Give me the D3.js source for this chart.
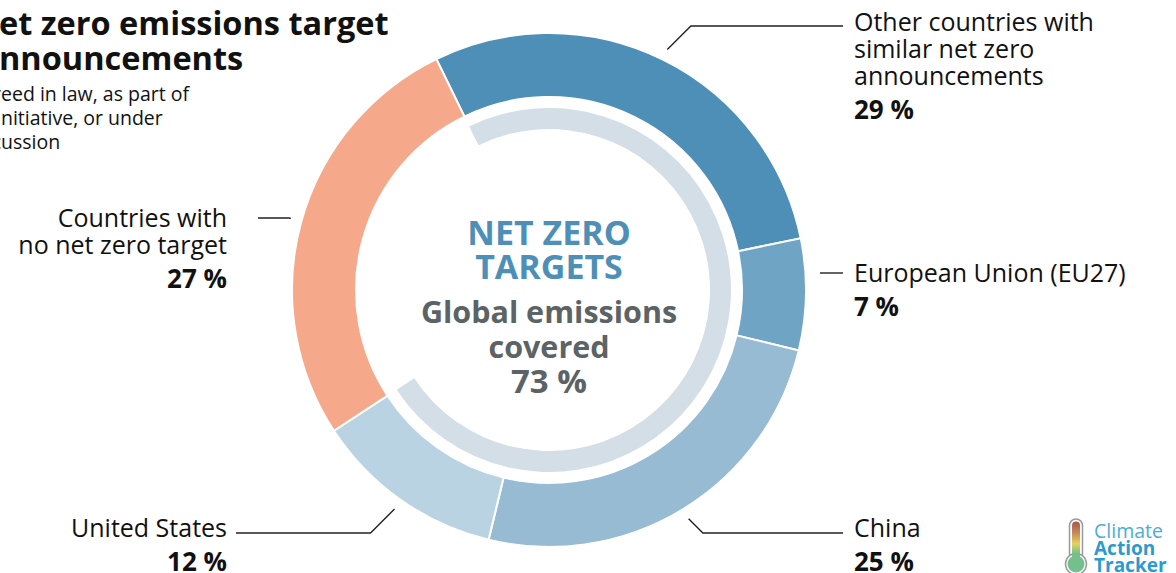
<!DOCTYPE html>
<html lang="en">
  <head>
    <meta charset="UTF-8" />
    <title>Net zero emissions target announcements</title>
    <script src="https://d3js.org/d3.v7.min.js"></script>
    <style>
      body {
        margin: 0;
        background: #ffffff;
        font-family: 'Open Sans', sans-serif;
        overflow: hidden;
      }
      svg {
        display: block;
      }
    </style>
  </head>
  <body>
    <svg id="chart" width="1176" height="573"></svg>

    <script>
      // data
      const categories = [
        'Other countries with similar net zero announcements',
        'European Union (EU27)',
        'China',
        'United States',
        'Countries with no net zero target',
      ];
      const shares = [29, 7, 25, 12, 27];
      const labelLines = [
        ['Other countries with', 'similar net zero', 'announcements'],
        ['European Union (EU27)'],
        ['China'],
        ['United States'],
        ['Countries with', 'no net zero target'],
      ];
      const coveredShare = 73;
      const titleLines = ['Net zero emissions target', 'announcements'];
      const subtitleLines = [
        'Agreed in law, as part of',
        'an initiative, or under',
        'discussion',
      ];
      // part of each line that falls off the left edge
      const titleHidden = ['N', 'a'];
      const subtitleHidden = ['Agr', 'an i', 'disc'];

      const colors = ['#4e8fb7', '#6fa4c5', '#96bbd3', '#bad3e2', '#f5a98a'];

      const svg = d3.select('#chart');
      const cx = 549,
        cy = 290,
        R = 257,
        r = 193;

      const startAngle = (-26 * Math.PI) / 180;
      const pie = d3
        .pie()
        .sort(null)
        .value((d) => d)
        .startAngle(startAngle)
        .endAngle(startAngle + 2 * Math.PI);
      const arcs = pie(shares);

      const arc = d3.arc().innerRadius(r).outerRadius(R);
      const g = svg.append('g').attr('transform', `translate(${cx},${cy})`);

      g.selectAll('path.slice')
        .data(arcs)
        .join('path')
        .attr('class', 'slice')
        .attr('d', arc)
        .attr('fill', (d, i) => colors[i])
        .attr('stroke', '#ffffff')
        .attr('stroke-width', 2);

      // inner gauge for covered emissions
      const covScale = d3
        .scaleLinear()
        .domain([0, 100])
        .range([startAngle, startAngle + 2 * Math.PI]);
      g.append('path')
        .attr(
          'd',
          d3
            .arc()
            .innerRadius(161)
            .outerRadius(182)
            .startAngle(covScale(0))
            .endAngle(covScale(coveredShare))(),
        )
        .attr('fill', '#d3dee7');

      // centre text
      const centre = g.append('g').attr('text-anchor', 'middle').style('font-weight', 700);
      centre
        .selectAll('text.nz')
        .data(['NET ZERO', 'TARGETS'])
        .join('text')
        .attr('class', 'nz')
        .attr('y', (d, i) => -45 + i * 34)
        .attr('fill', '#4e8fb7')
        .style('font-size', '34px')
        .text((d) => d);
      centre
        .selectAll('text.cov')
        .data(['Global emissions', 'covered', coveredShare + ' %'])
        .join('text')
        .attr('class', 'cov')
        .attr('y', (d, i) => 33 + i * 35)
        .attr('fill', '#5b6366')
        .style('font-size', (d, i) => (i === 2 ? '33px' : '30.5px'))
        .text((d) => d);

      // labels and leader lines
      const leaderR = 268;
      const labelLayout = [
        { side: 'right', y: 31, lineY: 26 },
        { side: 'right', y: 282, lineY: 273, straight: true, from: 820 },
        { side: 'right', y: 537, lineY: 533 },
        { side: 'left', y: 537, lineY: 533 },
        { side: 'left', y: 227, lineY: 218 },
      ];
      const polar = (a, rad) => [cx + rad * Math.sin(a), cy - rad * Math.cos(a)];

      arcs.forEach((d, i) => {
        const lay = labelLayout[i];
        const right = lay.side === 'right';
        const tx = right ? 854 : 227;
        const endX = right ? 843 : i === 4 ? 258 : 236;
        const mid = (d.startAngle + d.endAngle) / 2;
        let pts;
        if (lay.straight) {
          pts = [
            [lay.from, lay.lineY],
            [endX, lay.lineY],
          ];
        } else {
          const s = polar(mid, leaderR);
          const dy = lay.lineY - s[1];
          const ex = s[0] + (right ? 1 : -1) * Math.abs(dy);
          pts = [s, [ex, lay.lineY], [endX, lay.lineY]];
        }
        svg
          .append('path')
          .attr('d', d3.line()(pts))
          .attr('fill', 'none')
          .attr('stroke', '#222222')
          .attr('stroke-width', 1.4);

        const t = svg
          .append('text')
          .attr('x', tx)
          .attr('text-anchor', right ? 'start' : 'end')
          .attr('fill', '#111111')
          .style('font-size', '25px');
        labelLines[i].forEach((line, k) => {
          t.append('tspan')
            .attr('x', tx)
            .attr('y', lay.y + k * 27)
            .text(line);
        });
        t.append('tspan')
          .attr('x', tx)
          .attr('y', lay.y + (labelLines[i].length - 1) * 27 + 34)
          .style('font-weight', 700)
          .style('font-size', '26px')
          .text(shares[i] + ' %');
      });

      // title, cut off at the left edge
      function measure(str, size, weight) {
        const tmp = svg
          .append('text')
          .style('font-size', size + 'px')
          .style('font-weight', weight)
          .text(str);
        const w = tmp.node().getComputedTextLength();
        tmp.remove();
        return w;
      }
      titleLines.forEach((line, i) => {
        const off = measure(titleHidden[i], 32.5, 700);
        svg
          .append('text')
          .attr('x', -off - 1)
          .attr('y', 35 + i * 35)
          .style('font-size', '32.5px')
          .style('font-weight', 700)
          .attr('fill', '#111111')
          .text(line);
      });
      subtitleLines.forEach((line, i) => {
        const off = measure(subtitleHidden[i], 19.5, 400);
        svg
          .append('text')
          .attr('x', -off + 1)
          .attr('y', 101 + i * 24)
          .style('font-size', '19.5px')
          .attr('fill', '#111111')
          .text(line);
      });

      // logo
      const logo = svg.append('g');
      const defs = svg.append('defs');
      const grad = defs
        .append('linearGradient')
        .attr('id', 'thermo')
        .attr('x1', 0)
        .attr('x2', 0)
        .attr('y1', 0)
        .attr('y2', 1);
      [
        ['0%', '#a8564c'],
        ['30%', '#c98a5a'],
        ['55%', '#e6d25a'],
        ['80%', '#74c08c'],
        ['100%', '#74c08c'],
      ].forEach((s) => grad.append('stop').attr('offset', s[0]).attr('stop-color', s[1]));
      logo
        .append('rect')
        .attr('x', 1069.5)
        .attr('y', 519)
        .attr('width', 13)
        .attr('height', 42)
        .attr('rx', 6.5)
        .attr('fill', '#ffffff')
        .attr('stroke', '#9a9a9a')
        .attr('stroke-width', 1.5);
      logo
        .append('circle')
        .attr('cx', 1076)
        .attr('cy', 564)
        .attr('r', 10.5)
        .attr('fill', '#ffffff')
        .attr('stroke', '#9a9a9a')
        .attr('stroke-width', 1.5);
      logo
        .append('rect')
        .attr('x', 1072)
        .attr('y', 521.5)
        .attr('width', 8)
        .attr('height', 40)
        .attr('rx', 4)
        .attr('fill', 'url(#thermo)');
      logo
        .append('circle')
        .attr('cx', 1076)
        .attr('cy', 564)
        .attr('r', 8.5)
        .attr('fill', '#74c08c');
      logo
        .append('text')
        .attr('x', 1094)
        .attr('y', 538)
        .style('font-size', '19.5px')
        .attr('fill', '#4aaed6')
        .text('Climate');
      ['Action', 'Tracker'].forEach((w, i) => {
        logo
          .append('text')
          .attr('x', 1094)
          .attr('y', 555 + i * 17)
          .style('font-size', '19px')
          .style('font-weight', 700)
          .attr('fill', '#2a9bcc')
          .text(w);
      });
    </script>
  </body>
</html>
